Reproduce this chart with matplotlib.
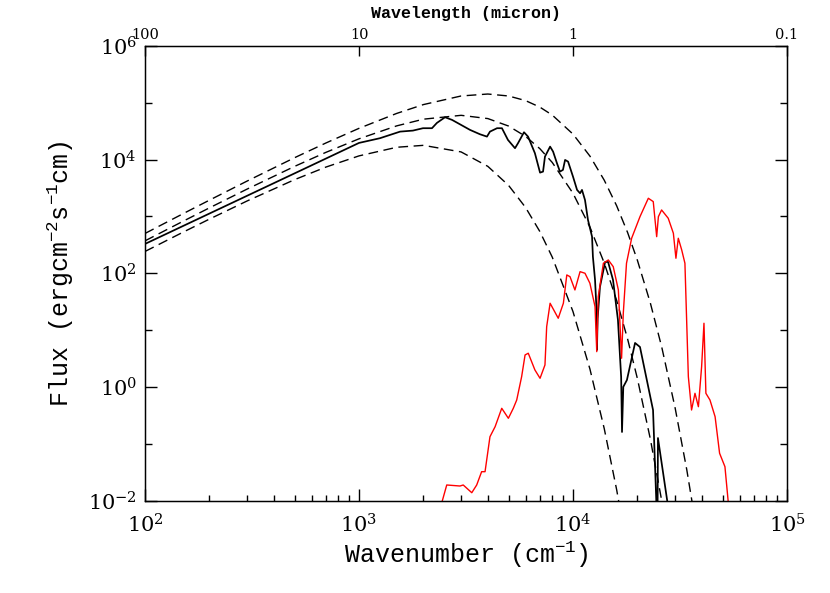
import numpy as np
import matplotlib
matplotlib.use("Agg")
import matplotlib.pyplot as plt
from matplotlib.ticker import FixedLocator, FixedFormatter, NullFormatter, NullLocator, LogLocator

plt.rcParams['font.family'] = ['DejaVu Serif']
plt.rcParams['mathtext.fontset'] = 'dejavuserif'

# ---- Blackbody (dashed) curves, values read / computed at these wavenumbers ----
bb_log_nu = [2.0, 2.1761, 2.3010, 2.4771, 2.6990, 2.8451, 3.0, 3.1761, 3.3010, 3.4771,
             3.6021, 3.6990, 3.7782, 3.8451, 3.9031, 4.0, 4.0792, 4.1461, 4.2041,
             4.2553, 4.3010, 4.3617, 4.4150, 4.4314, 4.4771, 4.5315, 4.5798]
bb1000_logF = [2.3835, 2.7196, 2.9531, 3.2722, 3.6476, 3.8684, 4.0658, 4.2174, 4.2515, 4.1356,
               3.8812, 3.5461, 3.1585, 2.7343, 2.2835, 1.3245, 0.3123, -0.7366, -1.8124,
               -2.9084, None, None, None, None, None, None, None]
bb1500_logF = [2.5702, 2.9118, 3.1508, 3.4814, 3.8809, 4.1275, 4.3664, 4.5941, 4.7119, 4.7798,
               4.7224, 4.5909, 4.4095, 4.1928, 3.9498, 3.4073, 2.8118, 2.1794, 1.5202,
               0.8406, 0.1446, -0.9230, -2.0129, -2.3801, None, None, None]
bb2000_logF = [2.7004, 3.0447, 3.2865, 3.6226, 4.0337, 4.2924, 4.5506, 4.8132, 4.9688, 5.1204,
               5.1548, 5.1200, 5.0389, 4.9242, 4.7842, 4.4491, 4.0615, 3.6373, 3.1865,
               2.7153, 2.2275, 1.4723, 0.6949, None, -0.3687, -1.4551, -2.5598]

# ---- Black solid spectrum (log10 wavenumber, log10 flux) ----
black_log_nu = [2.000, 2.300, 2.700, 3.000, 3.098, 3.192, 3.252, 3.299, 3.341, 3.364, 3.402,
                3.435, 3.519, 3.565, 3.598, 3.612, 3.645, 3.668, 3.696, 3.729, 3.743, 3.771,
                3.790, 3.822, 3.846, 3.860, 3.869, 3.893, 3.907, 3.925, 3.939, 3.953, 3.963,
                3.977, 4.000, 4.019, 4.033, 4.042, 4.056, 4.070, 4.089, 4.093, 4.103, 4.110,
                4.112, 4.115, 4.126, 4.150, 4.164, 4.187, 4.210, 4.225, 4.229, 4.235, 4.252,
                4.290, 4.313, 4.374, 4.392, 4.395, 4.397, 4.444]
black_logF = [2.516, 3.049, 3.760, 4.294, 4.377, 4.493, 4.511, 4.553, 4.553, 4.646, 4.746,
              4.699, 4.523, 4.447, 4.405, 4.493, 4.553, 4.553, 4.347, 4.201, 4.289, 4.482,
              4.405, 4.113, 3.771, 3.789, 4.053, 4.229, 4.141, 3.937, 3.789, 3.819, 3.995,
              3.965, 3.701, 3.467, 3.408, 3.467, 3.290, 2.938, 2.644, 2.292, 1.882, 1.354,
              0.650, 1.200, 1.759, 2.199, 2.199, 1.882, 1.178, 0.174, -0.794, 0.000, 0.121,
              0.773, 0.702, -0.407, -2.300, -2.300, -0.900, -2.100]

# ---- Red spectrum (log10 wavenumber, log10 flux) ----
red_log_nu = [3.386, 3.410, 3.472, 3.487, 3.527, 3.550, 3.573, 3.589, 3.612, 3.636, 3.667,
              3.698, 3.721, 3.737, 3.760, 3.776, 3.791, 3.822, 3.846, 3.869, 3.877, 3.893,
              3.931, 3.955, 3.971, 3.986, 4.009, 4.033, 4.056, 4.079, 4.103, 4.111, 4.118,
              4.142, 4.165, 4.188, 4.212, 4.227, 4.235, 4.250, 4.274, 4.313, 4.352, 4.375,
              4.391, 4.399, 4.414, 4.445, 4.469, 4.481, 4.492, 4.508, 4.523, 4.539, 4.554,
              4.570, 4.586, 4.601, 4.612, 4.621, 4.640, 4.664, 4.685, 4.710, 4.726]
red_logF = [-2.05, -1.727, -1.745, -1.727, -1.863, -1.727, -1.493, -1.493, -0.877, -0.701, -0.377,
            -0.553, -0.377, -0.231, 0.180, 0.562, 0.592, 0.298, 0.151, 0.386, 1.060, 1.472,
            1.208, 1.472, 1.970, 1.940, 1.706, 2.028, 2.000, 1.824, 1.412, 0.620, 1.588,
            2.176, 2.234, 2.116, 1.706, 0.504, 1.296, 2.176, 2.616, 2.996, 3.320, 3.261,
            2.644, 2.996, 3.114, 2.968, 2.704, 2.264, 2.616, 2.410, 2.176, 0.180, -0.407,
            -0.113, -0.349, 0.356, 1.120, -0.113, -0.231, -0.525, -1.169, -1.405, -2.05]

x_ticks = [1e2, 1e3, 1e4, 1e5]
x_ticklabels = [r'$\mathdefault{10^{2}}$', r'$\mathdefault{10^{3}}$',
                r'$\mathdefault{10^{4}}$', r'$\mathdefault{10^{5}}$']
y_ticks = [1e-2, 1e0, 1e2, 1e4, 1e6]
y_ticklabels = [r'$\mathdefault{10^{-2}}$', r'$\mathdefault{10^{0}}$', r'$\mathdefault{10^{2}}$',
                r'$\mathdefault{10^{4}}$', r'$\mathdefault{10^{6}}$']
y_minor = [1e-1, 1e1, 1e3, 1e5]
top_ticklabels = ['100', '10', '1', '0.1']


def to_xy(lognu, logf):
    pts = [(10 ** a, 10 ** b) for a, b in zip(lognu, logf) if b is not None]
    return np.array([p[0] for p in pts]), np.array([p[1] for p in pts])


fig = plt.figure(figsize=(8.3, 5.93), dpi=100)
ax = fig.add_axes([145 / 830, 1 - 500.5 / 593, 642 / 830, 454.5 / 593])
ax.set_xscale('log')
ax.set_yscale('log')

for curve in (bb1000_logF, bb1500_logF, bb2000_logF):
    x, y = to_xy(bb_log_nu, curve)
    ax.plot(x, y, color='black', lw=1.0, dashes=(7, 4))

x, y = to_xy(black_log_nu, black_logF)
ax.plot(x, y, color='black', lw=1.25)
x, y = to_xy(red_log_nu, red_logF)
ax.plot(x, y, color='#ff0000', lw=1.0)

ax.set_xlim(1e2, 1e5)
ax.set_ylim(1e-2, 1e6)

ax.xaxis.set_major_locator(FixedLocator(x_ticks))
ax.xaxis.set_major_formatter(FixedFormatter(x_ticklabels))
ax.xaxis.set_minor_locator(LogLocator(base=10, subs=list(range(2, 10)), numticks=20))
ax.xaxis.set_minor_formatter(NullFormatter())
ax.yaxis.set_major_locator(FixedLocator(y_ticks))
ax.yaxis.set_major_formatter(FixedFormatter(y_ticklabels))
ax.yaxis.set_minor_locator(FixedLocator(y_minor))
ax.yaxis.set_minor_formatter(NullFormatter())

ax.tick_params(which='both', direction='in', top=False, right=True, width=1.0)
ax.tick_params(axis='x', which='major', length=8.5, pad=9, labelsize=15)
ax.tick_params(axis='x', which='minor', length=4.0)
ax.tick_params(axis='y', which='major', length=8.5, pad=6, labelsize=15)
ax.tick_params(axis='y', which='minor', length=5.0)
for s in ax.spines.values():
    s.set_linewidth(1.0)

label_font = dict(family='Liberation Mono', size=18)
ax.set_xlabel(r'Wavenumber (cm$^{\mathdefault{-1}}$)', labelpad=2, **label_font)
ax.set_ylabel(r'Flux (ergcm$^{\mathdefault{-2}}$s$^{\mathdefault{-1}}$cm)', labelpad=9, **label_font)

ax2 = ax.twiny()
ax2.set_xscale('log')
ax2.set_xlim(1e2, 1e5)
ax2.xaxis.set_major_locator(FixedLocator(x_ticks))
ax2.xaxis.set_major_formatter(FixedFormatter(top_ticklabels))
ax2.xaxis.set_minor_locator(NullLocator())
ax2.tick_params(axis='x', direction='in', length=7, width=1.0, pad=3, labelsize=10.5)
ax2.set_xlabel('Wavelength (micron)', family='Liberation Mono', fontweight='bold',
               fontsize=12, labelpad=7)

fig.savefig('out.png', dpi=100)
